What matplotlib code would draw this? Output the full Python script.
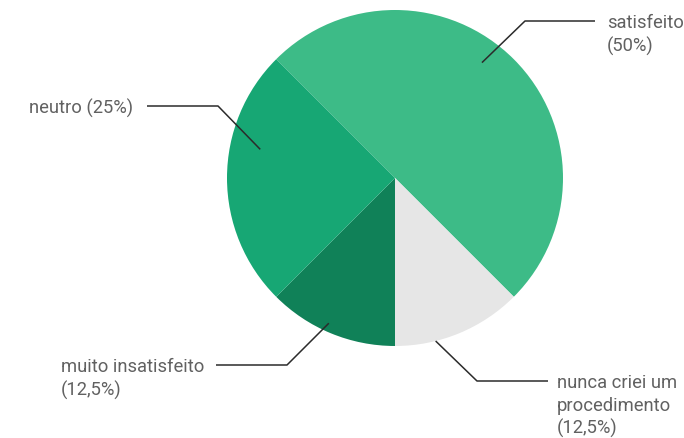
import numpy as np
import matplotlib
matplotlib.use("Agg")
import matplotlib.pyplot as plt

# Survey answers and their shares (percent)
categories = ["satisfeito", "nunca criei um\nprocedimento", "muito insatisfeito", "neutro"]
shares = [50.0, 12.5, 12.5, 25.0]
colors = ["#3dbb87", "#e6e6e6", "#108158", "#17a774"]

plt.rcParams["font.family"] = ["Roboto", "DejaVu Sans"]

W, H = 684, 438
fig = plt.figure(figsize=(W / 100, H / 100), dpi=100)
ax = fig.add_axes([0, 0, 1, 1])

center = (395, 260)
radius = 168
ax.pie(shares, colors=colors, startangle=135, counterclock=False,
       center=center, radius=radius, frame=True,
       wedgeprops=dict(linewidth=0))
ax.set_xlim(0, W)
ax.set_ylim(0, H)
ax.set_aspect("equal")
ax.axis("off")


def fmt_pct(v):
    s = f"{v:g}".replace(".", ",")
    return f"({s}%)"


# Leader-line layout: anchor angle (deg), anchor radius fraction,
# elbow point, line end, text position, text alignment, single-line flag
layout = [
    dict(ang=53, rf=0.86, elbow=(525, 417), end=(595, 417), text=(607, 417), ha="left", inline=False),
    dict(ang=-76, rf=1.0, elbow=(477, 57), end=(548, 57), text=(557, 57), ha="left", inline=False),
    dict(ang=-114.5, rf=0.95, elbow=(287, 73), end=(216, 73), text=(61, 73), ha="left", inline=False),
    dict(ang=168, rf=0.82, elbow=(218, 332), end=(147, 332), text=(133, 332), ha="right", inline=True),
]
line_step = 22.8
baseline_drop = 7.5

for cat, val, lay in zip(categories, shares, layout):
    a = np.deg2rad(lay["ang"])
    px = center[0] + lay["rf"] * radius * np.cos(a)
    py = center[1] + lay["rf"] * radius * np.sin(a)
    xs = [px, lay["elbow"][0], lay["end"][0]]
    ys = [py, lay["elbow"][1], lay["end"][1]]
    ax.plot(xs, ys, color="#2b2b2b", lw=1.1, solid_capstyle="butt", zorder=3)
    if lay["inline"]:
        lines = [f"{cat} {fmt_pct(val)}"]
    else:
        lines = cat.split("\n") + [fmt_pct(val)]
    for i, ln in enumerate(lines):
        ax.text(lay["text"][0], lay["text"][1] - baseline_drop - i * line_step, ln,
                ha=lay["ha"], va="baseline", fontsize=13.2, color="#616161")

fig.savefig("out.png", dpi=100, facecolor="white")
